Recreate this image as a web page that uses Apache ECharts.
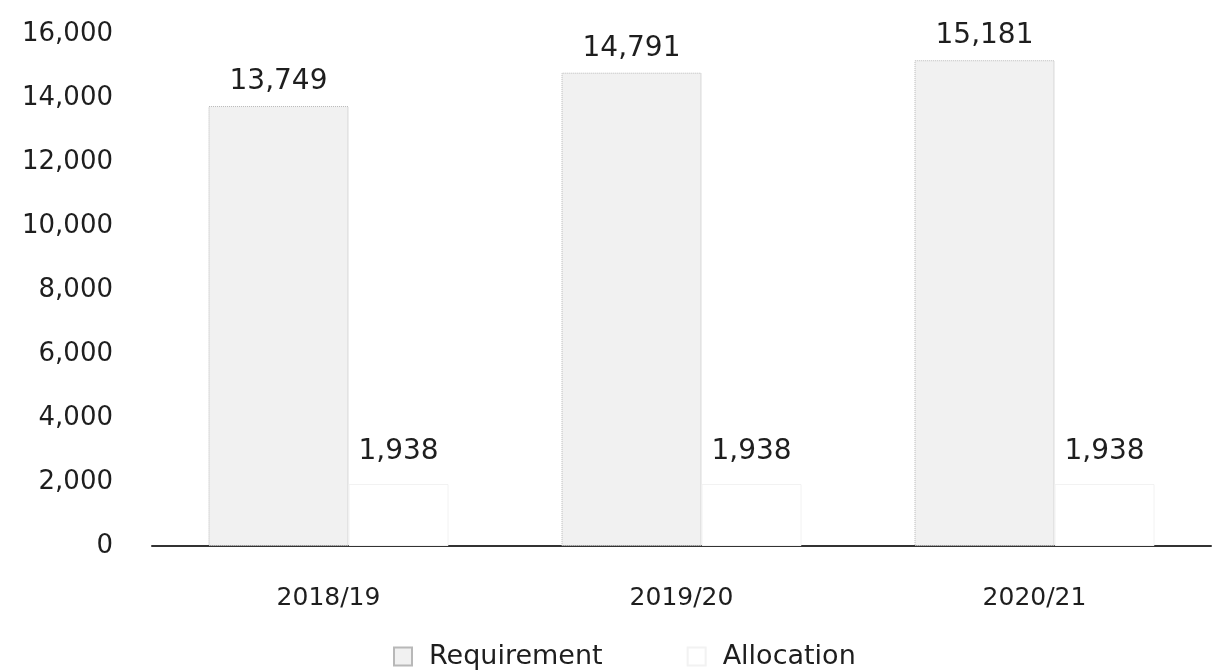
<!DOCTYPE html>
<html>
<head>
<meta charset="utf-8">
<script src="https://cdn.jsdelivr.net/npm/echarts@6/dist/echarts.min.js"></script>
<style>
  html, body { margin: 0; padding: 0; background: #fff; }
  #chart { width: 1216px; height: 670px; }
</style>
</head>
<body>
<div id="chart"></div>
<script>
// 年份与两组数据
var years = ['2018/19', '2019/20', '2020/21'];
var requirement = [13749, 14791, 15181];
var allocation = [1938, 1938, 1938];
var yTicks = { min: 0, max: 16000, interval: 2000 };

var textColor = '#1e1e1e';
var fontFamily = '"DejaVu Sans", sans-serif';

function fmt(v) {
  return Number(v).toLocaleString('en-US');
}

var myChart = echarts.init(document.getElementById('chart'));
var option = {
  animation: false,
  textStyle: { fontFamily: fontFamily },
  grid: {
    left: 152,
    right: 5,
    top: 34,
    bottom: 124
  },
  legend: {
    top: 638,
    left: 388,
    icon: 'rect',
    itemWidth: 18,
    itemHeight: 18,
    itemGap: 84,
    textStyle: {
      color: textColor,
      fontSize: 27,
      fontFamily: fontFamily,
      padding: [0, 0, 0, 12]
    },
    data: ['Requirement', 'Allocation']
  },
  xAxis: {
    type: 'category',
    data: years,
    axisTick: { show: false },
    axisLine: { show: true, lineStyle: { color: '#333', width: 2 } },
    axisLabel: { color: textColor, fontSize: 25, margin: 40, fontFamily: fontFamily }
  },
  yAxis: {
    type: 'value',
    min: yTicks.min,
    max: yTicks.max,
    interval: yTicks.interval,
    axisLine: { show: false },
    axisTick: { show: false },
    splitLine: { show: false },
    axisLabel: {
      color: textColor,
      fontSize: 26,
      margin: 39,
      fontFamily: fontFamily,
      formatter: fmt
    }
  },
  series: [
    {
      name: 'Requirement',
      type: 'bar',
      barWidth: 140,
      barGap: 0,
      data: requirement,
      itemStyle: {
        color: '#f1f1f1',
        borderColor: '#b8b8b8',
        borderWidth: 1,
        borderType: 'dotted'
      },
      label: {
        show: true,
        position: 'top',
        distance: 10,
        color: textColor,
        fontSize: 28,
        fontFamily: fontFamily,
        formatter: function (p) { return fmt(p.value); }
      }
    },
    {
      name: 'Allocation',
      type: 'bar',
      barWidth: 100,
      data: allocation,
      itemStyle: {
        color: '#ffffff',
        borderColor: '#f2f2f2',
        borderWidth: 1
      },
      label: {
        show: true,
        position: 'top',
        distance: 18,
        color: textColor,
        fontSize: 28,
        fontFamily: fontFamily,
        formatter: function (p) { return fmt(p.value); }
      }
    }
  ]
};
myChart.setOption(option);
</script>
</body>
</html>
